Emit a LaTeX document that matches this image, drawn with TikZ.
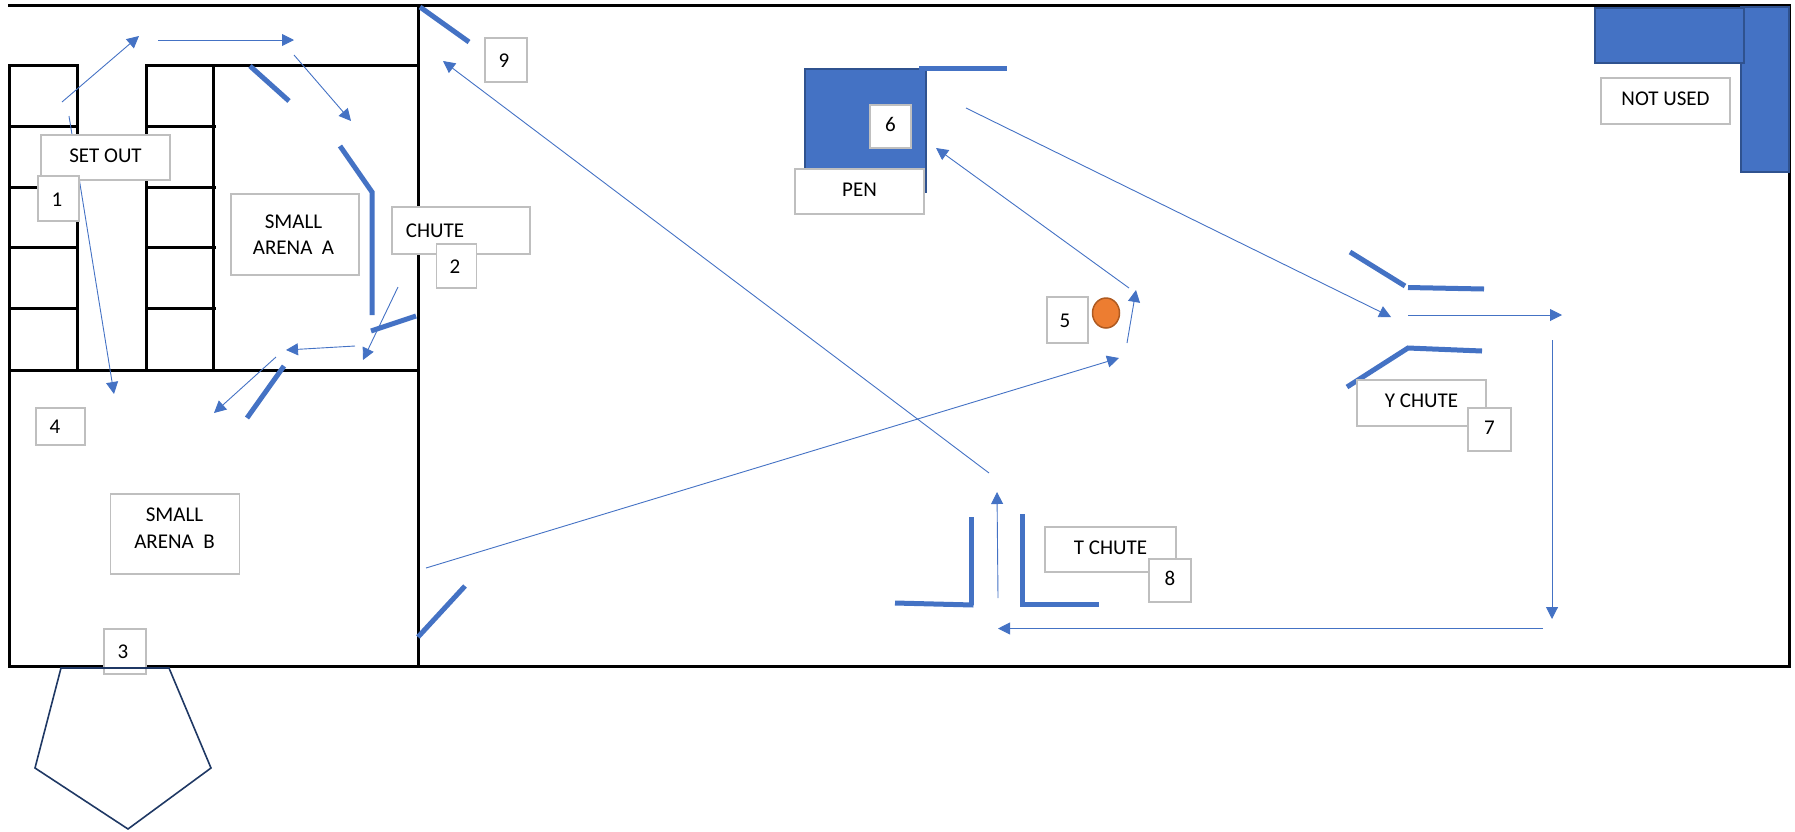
\documentclass[tikz,border=0pt]{standalone}
\usepackage{fontspec}
\setmainfont{Carlito}
\usetikzlibrary{arrows.meta,shapes.geometric}
\definecolor{flow}{HTML}{4472C4}
\definecolor{flowedge}{HTML}{2F528F}
\definecolor{boxedge}{HTML}{BFBFBF}
\definecolor{navy}{HTML}{1F3864}
\definecolor{marker}{HTML}{ED7D31}
\definecolor{markeredge}{HTML}{AE5A21}
\tikzset{
  wall/.style={draw=black,line width=3pt,line cap=rect},
  gate/.style={draw=flow,line width=5pt,line join=miter},
  route/.style={draw=flow,line width=0.9pt,-{Triangle[length=12pt,width=12pt]}},
  solid block/.style={fill=flow,draw=flowedge,line width=1.5pt},
  tag/.style={draw=boxedge,fill=white,line width=1.5pt,inner sep=0pt,align=center,
    font=\fontsize{21}{26.5}\selectfont,text height=14pt,text depth=5pt},
  tagtext/.style={inner sep=0pt,font=\fontsize{21}{26.5}\selectfont,text height=14pt,text depth=0pt,align=center}
}
\begin{document}
\begin{tikzpicture}[x=1pt,y=-1pt]
\useasboundingbox (0,0) rectangle (1795,831);
% building walls
\draw[wall] (9.5,5.5) -- (1789,5.5) -- (1789,666) -- (9.5,666) -- (9.5,65.5) -- (77.5,65.5);
\draw[wall] (146,65.5) -- (418,65.5);
\draw[wall] (418,5.5) -- (418,666);
\draw[wall] (9.5,370) -- (418,370);
\draw[wall] (77.5,65.5) -- (77.5,370);
\draw[wall] (146,65.5) -- (146,370);
\draw[wall] (213.5,65.5) -- (213.5,370);
\foreach \yy in {126.5,187.5,247.5,308.5}{
  \draw[wall,line cap=butt] (9.5,\yy) -- (77.5,\yy);
  \draw[wall,line cap=butt] (146,\yy) -- (216,\yy);
}
% blue blocks
\draw[solid block] (1741,7) rectangle (1789,172);
\draw[solid block] (1595,8) rectangle (1744,63);
\draw[solid block] (805,69) rectangle (926,192);
% gates
\draw[gate] (919,68.5) -- (1007,68.5);
\draw[gate] (250,66) -- (289,101);
\draw[gate] (340,146) -- (372,192) -- (372,315);
\draw[gate] (371,331) -- (416,316);
\draw[gate] (284,366) -- (247,418);
\draw[gate] (420,7) -- (469,42);
\draw[gate] (465,586) -- (418,637);
\draw[gate] (1350,252) -- (1405,286);
\draw[gate] (1408,287.5) -- (1484,289);
\draw[gate] (1347,387) -- (1408,348) -- (1482,351);
\draw[gate] (895,603) -- (973.5,605);
\draw[gate] (971,605) -- (971,517);
\draw[gate] (1022,514) -- (1022,604) -- (1099,604);
% routes
\draw[route] (62,102) -- (139,36);
\draw[route] (158,40) -- (294,40);
\draw[route] (294,55) -- (351,121);
\draw[route] (69,116) -- (114,394);
\draw[route] (398,287) -- (363,360);
\draw[route] (355,346) -- (286,350);
\draw[route] (276,357) -- (214,413);
\draw[route] (426,568) -- (1119,358);
\draw[route] (1127,343) -- (1136,290);
\draw[route] (1129,288) -- (936,148);
\draw[route] (966,108) -- (1391,317);
\draw[route] (1408,315) -- (1562,315);
\draw[route] (1552,340) -- (1552,619);
\draw[route] (1543,628.5) -- (998,628.5);
\draw[route] (998,598) -- (997,492);
\draw[route] (989,473) -- (443,61);
% marker
\node[draw=markeredge,fill=marker,line width=1.5pt,ellipse,minimum width=27pt,minimum height=30pt,inner sep=0pt] (dot) at (1106,313) {};
% labels
\node[tag,minimum width=129pt,minimum height=45pt] (setout) at (105.5,157.5) {SET OUT};
\node[tag,minimum width=41pt,minimum height=45pt] (n1) at (58.5,198.5) {};
\node[tagtext] (n1t) at (57,199) {1};
\node[tag,minimum width=128pt,minimum height=81pt] (arenaa) at (295,234.5) {};
\node[tagtext] (arenaat) at (293.5,247.5) {SMALL\\ARENA\ \ A};
\node[tag,minimum width=138pt,minimum height=47pt] (chute) at (461,230.5) {};
\node[tagtext] (chutet) at (435,230) {CHUTE};
\node[tag,minimum width=40pt,minimum height=44pt] (n2) at (456.5,266) {};
\node[tagtext] (n2t) at (455,266) {2};
\node[tag,minimum width=49pt,minimum height=37pt] (n4) at (60.5,426.5) {};
\node[tagtext] (n4t) at (55,426) {4};
\node[tag,minimum width=129pt,minimum height=80pt] (arenab) at (175,534) {};
\node[tagtext] (arenabt) at (174.5,541) {SMALL\\ARENA\ \ B};
\node[tag,minimum width=42pt,minimum height=45pt] (n3) at (125,651.5) {};
\node[tagtext] (n3t) at (123,651) {3};
\node[tag,minimum width=41pt,minimum height=43pt] (n6) at (890.5,126.5) {6};
\node[tag,minimum width=129pt,minimum height=45pt] (pen) at (859.5,191.5) {PEN};
\node[tag,minimum width=129pt,minimum height=46pt] (notused) at (1665.5,101) {NOT USED};
\node[tag,minimum width=41pt,minimum height=46pt] (n5) at (1067.5,320) {};
\node[tagtext] (n5t) at (1065,320) {5};
\node[tag,minimum width=129pt,minimum height=46pt] (ychute) at (1421.5,403) {Y CHUTE};
\node[tag,minimum width=43pt,minimum height=43pt] (n7) at (1489.5,429.5) {7};
\node[tag,minimum width=131pt,minimum height=45pt] (tchute) at (1110.5,549.5) {T CHUTE};
\node[tag,minimum width=42pt,minimum height=43pt] (n8) at (1170,580.5) {8};
\node[tag,minimum width=42pt,minimum height=44pt] (n9) at (506,60) {};
\node[tagtext] (n9t) at (504,60) {9};
% pentagon
\draw[navy,line width=1.6pt,line join=miter] (61,668) -- (169,668) -- (211,768) -- (128,829) -- (35,768) -- cycle;
\end{tikzpicture}
\end{document}
